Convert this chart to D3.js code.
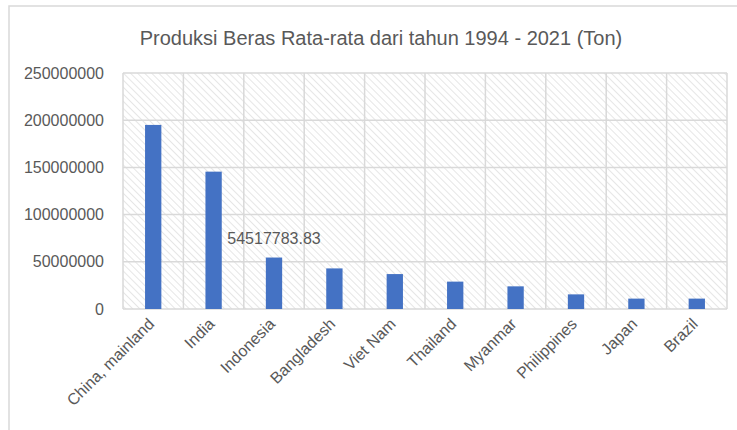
<!DOCTYPE html>
<html lang="id">
<head>
  <meta charset="UTF-8">
  <title>Produksi Beras Rata-rata</title>
  <script src="https://d3js.org/d3.v7.min.js"></script>
  <style>
    body { margin: 0; background: #fff; }
    text { font-family: "Liberation Sans", Arial, sans-serif; fill: #595959; }
  </style>
</head>
<body>
  <script>
    "use strict";
    // data
    var countries = ['China, mainland', 'India', 'Indonesia', 'Bangladesh', 'Viet Nam',
      'Thailand', 'Myanmar', 'Philippines', 'Japan', 'Brazil'];
    var production = [195000000, 145500000, 54517783.83, 43000000, 37000000,
      29000000, 24000000, 15500000, 11000000, 11000000];
    var yTicks = [0, 50000000, 100000000, 150000000, 200000000, 250000000];
    var labelled = 'Indonesia';

    var W = 737, H = 430;
    var margin = { left: 123, right: 10, top: 73, bottom: 121 };

    var svg = d3.select('body').append('svg')
      .attr('width', W)
      .attr('height', H);

    // outer chart border (only left and top visible in the frame)
    svg.append('rect')
      .attr('x', 9).attr('y', 6)
      .attr('width', W + 20).attr('height', H + 20)
      .attr('fill', '#fff')
      .attr('stroke', '#d9d9d9')
      .attr('stroke-width', 1.5);

    // hatch pattern for plot area (lines running down-right)
    var pat = svg.append('defs').append('pattern')
      .attr('id', 'hatch')
      .attr('patternUnits', 'userSpaceOnUse')
      .attr('width', 5).attr('height', 5)
      .attr('patternTransform', 'rotate(-45)');
    pat.append('line')
      .attr('x1', 0).attr('y1', 0).attr('x2', 0).attr('y2', 5)
      .attr('stroke', '#e0e0e0')
      .attr('stroke-width', 1.6);

    var x = d3.scaleBand()
      .domain(countries)
      .range([margin.left, W - margin.right])
      .paddingInner(0.73)
      .paddingOuter(0.365);

    var xCell = d3.scaleBand()
      .domain(countries)
      .range([margin.left, W - margin.right]);

    var y = d3.scaleLinear()
      .domain([0, 250000000])
      .range([H - margin.bottom, margin.top]);

    svg.append('rect')
      .attr('x', margin.left).attr('y', margin.top)
      .attr('width', W - margin.right - margin.left)
      .attr('height', H - margin.bottom - margin.top)
      .attr('fill', 'url(#hatch)');

    // gridlines
    svg.append('g')
      .selectAll('line.h')
      .data(yTicks)
      .enter().append('line')
      .attr('x1', margin.left).attr('x2', W - margin.right)
      .attr('y1', function (d) { return y(d); })
      .attr('y2', function (d) { return y(d); })
      .attr('stroke', '#d9d9d9')
      .attr('stroke-width', 1.5);

    var vLines = countries.map(function (c) { return xCell(c); }).concat([W - margin.right]);
    svg.append('g')
      .selectAll('line')
      .data(vLines)
      .enter().append('line')
      .attr('x1', function (d) { return d; }).attr('x2', function (d) { return d; })
      .attr('y1', margin.top).attr('y2', H - margin.bottom)
      .attr('stroke', '#d9d9d9')
      .attr('stroke-width', 1.5);

    // bars
    svg.append('g')
      .selectAll('rect')
      .data(countries)
      .enter().append('rect')
      .attr('x', function (d) { return x(d); })
      .attr('width', x.bandwidth())
      .attr('y', function (d, i) { return y(production[i]); })
      .attr('height', function (d, i) { return y(0) - y(production[i]); })
      .attr('fill', '#4472c4');

    // y axis
    var yAxis = svg.append('g')
      .attr('transform', 'translate(' + (margin.left - 16) + ',0)')
      .call(d3.axisLeft(y).tickValues(yTicks).tickSize(0).tickFormat(d3.format('d')));
    yAxis.select('.domain').remove();
    yAxis.selectAll('text')
      .attr('font-size', 16)
      .attr('fill', '#595959')
      .style('font-family', '"Liberation Sans", Arial, sans-serif');

    // x axis labels rotated
    var xAxis = svg.append('g')
      .attr('transform', 'translate(0,' + (H - margin.bottom) + ')')
      .call(d3.axisBottom(x).tickSize(0));
    xAxis.select('.domain').remove();
    xAxis.selectAll('text')
      .attr('font-size', 16)
      .attr('fill', '#595959')
      .attr('text-anchor', 'end')
      .attr('dx', 0).attr('dy', 0)
      .attr('y', 0)
      .attr('transform', 'translate(2,16) rotate(-45)')
      .style('font-family', '"Liberation Sans", Arial, sans-serif');

    // data label
    var li = countries.indexOf(labelled);
    svg.append('text')
      .attr('x', x(labelled) + x.bandwidth() / 2)
      .attr('y', y(production[li]) - 14)
      .attr('text-anchor', 'middle')
      .attr('font-size', 16)
      .text(d3.format('.2f')(production[li]));

    // title
    svg.append('text')
      .attr('x', 381)
      .attr('y', 45)
      .attr('text-anchor', 'middle')
      .attr('font-size', 20)
      .text('Produksi Beras Rata-rata dari tahun 1994 - 2021 (Ton)');
  </script>
</body>
</html>
